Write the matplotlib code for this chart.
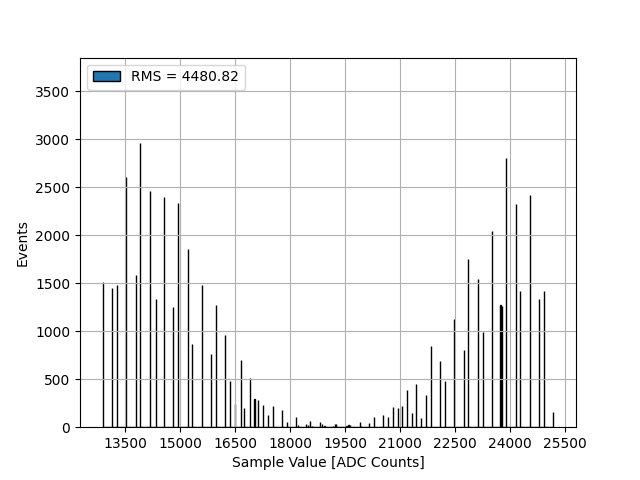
import numpy as np
import matplotlib
matplotlib.use('Agg')
from matplotlib import pyplot as plt

# ADC values of the populated bins and the event counts in them
adc_values = [12900, 13145, 13274, 13527, 13800, 13909, 14182, 14337, 14564, 14809,
              14945, 15218, 15327, 15600, 15845, 15982, 16227, 16364, 16500, 16655,
              16745, 16901, 17029, 17127, 17264, 17411, 17536, 17782, 17924, 18169,
              18224, 18436, 18483, 18545, 18597, 18818, 18873, 18946, 19173, 19219,
              19265, 19546, 19601, 19642, 19901, 19942, 20155, 20291, 20536, 20673,
              20809, 20951, 21060, 21191, 21327, 21436, 21573, 21709, 21845, 22091,
              22227, 22478, 22740, 22855, 23127, 23264, 23509, 23746, 23782, 23891,
              24164, 24273, 24545, 24791, 24927, 25173]
counts = [1515, 1450, 1480, 2600, 1580, 2960, 2455, 1330, 2395, 1250,
          2330, 1855, 865, 1480, 760, 1270, 955, 480, 240, 698,
          198, 510, 290, 281, 229, 125, 219, 178, 52, 104,
          22, 32, 18, 62, 17, 52, 32, 17, 8, 30,
          30, 15, 25, 28, 52, 15, 40, 104, 125, 104,
          206, 200, 219, 383, 146, 448, 95, 333, 844, 690,
          477, 1123, 802, 1750, 1542, 990, 2045, 1275, 1265, 2798,
          2323, 1413, 2413, 1330, 1413, 163]
rms = 4480.82

edges = np.linspace(12885, 25190, 1501)

fig, ax = plt.subplots(figsize=(6.4, 4.8), dpi=100)
ax.hist(adc_values, bins=edges, weights=counts, color='C0', edgecolor='black',
        label='RMS = %.2f' % rms)
ax.set_ylim(0, max(counts) * 1.3)
ax.set_xticks(np.arange(13500, 25501, 1500))
ax.set_xlabel('Sample Value [ADC Counts]')
ax.set_ylabel('Events')
ax.grid(True)
ax.legend(loc='upper left')

fig.savefig('out.png')
